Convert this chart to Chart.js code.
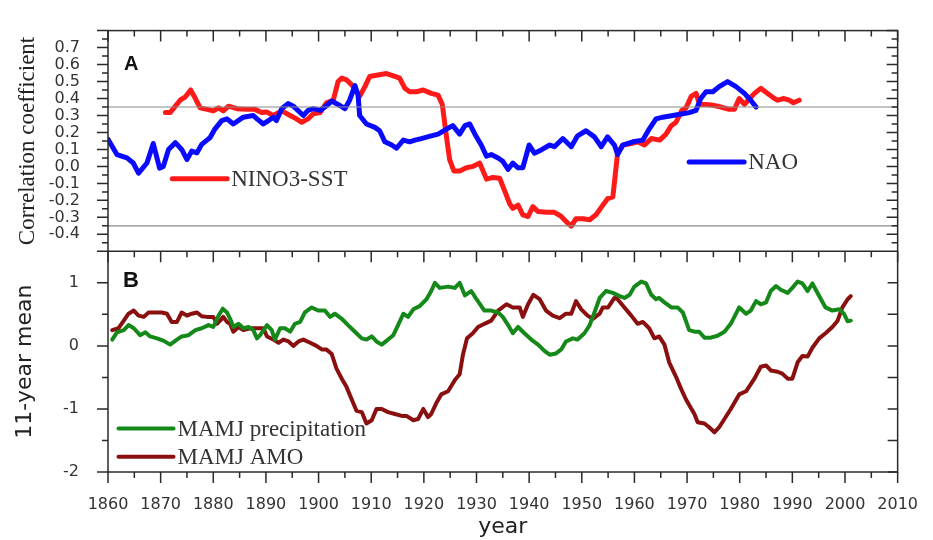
<html lang="en">
<head>
  <meta charset="UTF-8">
  <title>Correlation and 11-year mean</title>
  <script src="https://cdn.jsdelivr.net/npm/chart.js@4.4.1/dist/chart.umd.min.js"></script>
  <style>
    html, body { margin: 0; padding: 0; background: #fff; }
    .wrap { position: relative; width: 933px; height: 540px; }
  </style>
</head>
<body>

  <div class="wrap"><canvas id="chart" width="933" height="540"></canvas></div>

  <script>
    // panel A: running correlation with NINO3-SST and NAO
    var ninoYears = [1870.9, 1871.8, 1872.8, 1873.7, 1874.7, 1875.7, 1876.6, 1877.5, 1878.8, 1880.0, 1881.0, 1881.9, 1882.9, 1884.5, 1886.4, 1887.9, 1889.2, 1890.2, 1891.4, 1893.0, 1894.6, 1895.8, 1896.8, 1898.0, 1899.0, 1900.3, 1901.5, 1902.8, 1903.7, 1904.4, 1905.3, 1906.6, 1907.8, 1908.8, 1909.7, 1911.0, 1912.9, 1914.5, 1915.4, 1916.4, 1917.3, 1918.6, 1919.9, 1921.4, 1922.7, 1923.5, 1924.3, 1924.9, 1925.7, 1926.8, 1928.1, 1929.3, 1930.6, 1931.9, 1933.1, 1934.4, 1935.3, 1936.3, 1936.9, 1937.9, 1938.8, 1939.8, 1940.7, 1941.7, 1943.3, 1944.8, 1946.1, 1947.3, 1948.0, 1948.9, 1950.2, 1951.5, 1952.7, 1954.0, 1954.9, 1955.9, 1956.4, 1956.8, 1957.8, 1959.4, 1960.6, 1961.9, 1963.2, 1964.8, 1966.0, 1967.0, 1967.9, 1969.0, 1969.8, 1970.8, 1971.7, 1972.4, 1973.6, 1974.9, 1976.4, 1978.0, 1979.0, 1979.9, 1980.9, 1981.9, 1982.8, 1984.0, 1985.3, 1986.6, 1987.2, 1988.4, 1989.4, 1990.2, 1991.3];
    var ninoValues = [0.317, 0.317, 0.355, 0.39, 0.41, 0.45, 0.40, 0.345, 0.336, 0.327, 0.345, 0.327, 0.355, 0.34, 0.336, 0.336, 0.317, 0.32, 0.30, 0.327, 0.30, 0.28, 0.26, 0.28, 0.31, 0.317, 0.375, 0.39, 0.50, 0.52, 0.51, 0.47, 0.413, 0.47, 0.53, 0.537, 0.547, 0.53, 0.52, 0.46, 0.44, 0.44, 0.45, 0.43, 0.42, 0.365, 0.174, 0.04, -0.027, -0.027, -0.008, 0.0, 0.02, -0.075, -0.065, -0.07, -0.14, -0.22, -0.247, -0.228, -0.285, -0.295, -0.237, -0.266, -0.27, -0.27, -0.295, -0.333, -0.352, -0.308, -0.308, -0.314, -0.285, -0.228, -0.19, -0.18, -0.037, 0.078, 0.126, 0.135, 0.145, 0.126, 0.164, 0.155, 0.19, 0.24, 0.26, 0.33, 0.345, 0.413, 0.43, 0.365, 0.365, 0.36, 0.35, 0.336, 0.336, 0.40, 0.365, 0.40, 0.43, 0.46, 0.43, 0.40, 0.39, 0.40, 0.39, 0.375, 0.39];

    var naoYears = [1860.0, 1861.7, 1863.6, 1864.8, 1865.8, 1867.4, 1868.6, 1869.8, 1870.5, 1871.5, 1872.8, 1874.0, 1875.0, 1875.9, 1876.9, 1877.8, 1878.8, 1879.4, 1880.3, 1881.6, 1882.6, 1883.8, 1885.7, 1887.6, 1888.3, 1889.5, 1890.5, 1891.4, 1892.0, 1893.0, 1894.2, 1895.2, 1897.1, 1898.0, 1899.0, 1900.3, 1901.2, 1902.5, 1903.7, 1905.0, 1905.9, 1906.9, 1907.5, 1907.8, 1909.1, 1910.7, 1911.6, 1912.6, 1913.9, 1914.8, 1916.1, 1917.3, 1918.3, 1919.5, 1921.4, 1922.7, 1924.3, 1925.5, 1926.8, 1927.8, 1928.7, 1929.7, 1930.9, 1931.9, 1932.8, 1934.1, 1935.0, 1936.0, 1936.9, 1937.9, 1938.8, 1940.0, 1941.0, 1942.3, 1943.9, 1944.8, 1946.4, 1948.0, 1949.2, 1950.8, 1952.4, 1953.7, 1954.9, 1956.2, 1956.8, 1957.8, 1959.7, 1961.6, 1962.8, 1964.1, 1965.4, 1967.3, 1969.2, 1970.4, 1971.7, 1972.6, 1973.6, 1974.9, 1976.1, 1977.7, 1979.3, 1980.9, 1982.1, 1983.1];
    var naoValues = [0.16, 0.07, 0.05, 0.02, -0.04, 0.02, 0.135, -0.01, 0.0, 0.10, 0.14, 0.10, 0.04, 0.09, 0.08, 0.13, 0.155, 0.17, 0.22, 0.27, 0.28, 0.25, 0.29, 0.30, 0.28, 0.25, 0.27, 0.29, 0.27, 0.34, 0.37, 0.355, 0.30, 0.33, 0.34, 0.33, 0.35, 0.385, 0.365, 0.34, 0.39, 0.476, 0.42, 0.30, 0.25, 0.23, 0.21, 0.145, 0.126, 0.107, 0.155, 0.145, 0.155, 0.164, 0.18, 0.19, 0.22, 0.24, 0.19, 0.24, 0.25, 0.19, 0.126, 0.06, 0.07, 0.05, 0.03, -0.017, 0.02, -0.008, -0.008, 0.126, 0.078, 0.097, 0.126, 0.116, 0.164, 0.116, 0.18, 0.21, 0.174, 0.116, 0.174, 0.126, 0.07, 0.126, 0.145, 0.155, 0.22, 0.28, 0.29, 0.30, 0.31, 0.317, 0.33, 0.40, 0.44, 0.44, 0.47, 0.50, 0.47, 0.43, 0.39, 0.35];

    var sigYears = [1860, 2010];
    var sigLevel = 0.35;

    // panel B: 11-year means
    var precipYears = [1860.8, 1861.7, 1863.0, 1863.9, 1864.9, 1866.1, 1867.1, 1868.0, 1869.3, 1870.6, 1871.8, 1873.1, 1874.0, 1875.3, 1876.6, 1877.8, 1879.1, 1880.0, 1881.0, 1881.8, 1882.6, 1883.2, 1883.8, 1884.8, 1885.7, 1886.7, 1887.6, 1888.3, 1888.9, 1890.2, 1891.1, 1891.7, 1892.7, 1893.6, 1894.6, 1895.5, 1896.5, 1897.4, 1898.7, 1899.9, 1901.2, 1902.2, 1903.1, 1904.4, 1905.6, 1906.9, 1908.2, 1909.1, 1910.1, 1911.0, 1912.0, 1913.2, 1914.2, 1915.1, 1916.1, 1917.0, 1918.0, 1919.2, 1920.5, 1921.4, 1922.1, 1923.0, 1924.6, 1925.9, 1926.8, 1927.8, 1929.0, 1930.0, 1931.5, 1932.8, 1934.1, 1935.0, 1936.0, 1936.9, 1937.9, 1939.1, 1940.4, 1941.7, 1942.9, 1943.9, 1945.1, 1946.1, 1947.0, 1948.3, 1949.2, 1950.5, 1951.5, 1952.4, 1953.4, 1954.6, 1955.9, 1957.2, 1958.1, 1959.1, 1960.0, 1961.3, 1962.2, 1963.2, 1964.1, 1964.7, 1965.7, 1967.0, 1968.2, 1969.2, 1970.4, 1971.4, 1972.3, 1973.3, 1974.5, 1975.8, 1977.1, 1978.3, 1979.9, 1981.2, 1982.1, 1983.1, 1984.0, 1985.0, 1985.9, 1986.9, 1987.8, 1989.1, 1990.0, 1991.0, 1991.9, 1992.9, 1993.8, 1995.1, 1996.3, 1997.6, 1998.9, 1999.8, 2000.5, 2001.1];
    var precipValues = [0.10, 0.215, 0.25, 0.33, 0.28, 0.17, 0.215, 0.15, 0.12, 0.08, 0.02, 0.10, 0.15, 0.17, 0.25, 0.28, 0.33, 0.30, 0.48, 0.59, 0.53, 0.43, 0.30, 0.35, 0.28, 0.30, 0.25, 0.12, 0.17, 0.33, 0.25, 0.10, 0.28, 0.28, 0.225, 0.35, 0.38, 0.53, 0.61, 0.56, 0.56, 0.46, 0.51, 0.43, 0.33, 0.225, 0.12, 0.10, 0.15, 0.07, 0.02, 0.10, 0.17, 0.33, 0.51, 0.46, 0.58, 0.63, 0.74, 0.87, 1.00, 0.92, 0.94, 0.92, 1.00, 0.80, 0.87, 0.74, 0.56, 0.56, 0.53, 0.46, 0.33, 0.20, 0.30, 0.20, 0.10, 0.02, -0.08, -0.14, -0.12, -0.056, 0.07, 0.12, 0.10, 0.20, 0.33, 0.53, 0.76, 0.87, 0.84, 0.79, 0.76, 0.81, 0.94, 1.02, 0.99, 0.81, 0.74, 0.76, 0.69, 0.61, 0.61, 0.53, 0.25, 0.225, 0.225, 0.13, 0.13, 0.16, 0.225, 0.35, 0.61, 0.51, 0.56, 0.71, 0.66, 0.69, 0.87, 0.95, 0.89, 0.84, 0.92, 1.02, 0.99, 0.87, 0.99, 0.79, 0.61, 0.56, 0.58, 0.51, 0.39, 0.40];

    var amoYears = [1860.8, 1862.0, 1863.0, 1863.9, 1864.9, 1865.8, 1866.8, 1867.7, 1869.0, 1870.2, 1871.2, 1872.1, 1873.1, 1874.0, 1875.0, 1875.9, 1876.9, 1877.8, 1878.8, 1880.0, 1880.7, 1881.3, 1881.9, 1882.6, 1883.2, 1883.8, 1884.8, 1885.7, 1887.0, 1888.3, 1889.5, 1890.2, 1891.4, 1892.4, 1893.3, 1894.3, 1895.2, 1896.2, 1897.1, 1898.4, 1899.6, 1900.6, 1901.5, 1902.5, 1903.4, 1904.4, 1905.3, 1906.3, 1907.2, 1908.2, 1909.1, 1910.1, 1911.0, 1912.0, 1913.2, 1914.5, 1915.8, 1916.7, 1918.0, 1918.9, 1919.9, 1920.8, 1921.4, 1922.4, 1923.3, 1924.6, 1925.9, 1926.8, 1927.4, 1928.2, 1929.3, 1930.3, 1931.5, 1932.8, 1934.1, 1935.7, 1936.9, 1938.2, 1938.8, 1939.8, 1940.8, 1942.0, 1943.2, 1944.5, 1945.8, 1947.0, 1948.0, 1948.9, 1949.9, 1951.1, 1952.1, 1953.4, 1954.0, 1955.0, 1956.2, 1956.8, 1958.1, 1959.4, 1960.6, 1961.6, 1962.8, 1963.8, 1964.7, 1965.7, 1966.6, 1967.9, 1968.8, 1969.8, 1970.7, 1971.4, 1972.0, 1973.3, 1974.2, 1975.2, 1976.1, 1977.1, 1978.3, 1979.9, 1981.2, 1982.8, 1984.0, 1985.0, 1985.9, 1987.2, 1988.1, 1989.1, 1990.0, 1991.0, 1991.9, 1992.9, 1993.8, 1995.1, 1996.3, 1997.6, 1998.6, 1999.5, 2000.5, 2001.1];
    var amoValues = [0.25, 0.28, 0.40, 0.51, 0.56, 0.48, 0.46, 0.53, 0.53, 0.53, 0.51, 0.38, 0.38, 0.53, 0.48, 0.51, 0.53, 0.47, 0.46, 0.46, 0.35, 0.40, 0.46, 0.38, 0.35, 0.225, 0.30, 0.25, 0.28, 0.28, 0.28, 0.15, 0.10, 0.05, 0.10, 0.07, 0.0, 0.07, 0.10, 0.05, 0.0, -0.056, -0.056, -0.13, -0.36, -0.52, -0.65, -0.85, -1.03, -1.05, -1.23, -1.18, -1.00, -1.00, -1.05, -1.08, -1.11, -1.11, -1.18, -1.16, -1.00, -1.13, -1.08, -0.90, -0.77, -0.72, -0.54, -0.45, -0.15, 0.12, 0.20, 0.30, 0.35, 0.40, 0.56, 0.66, 0.61, 0.61, 0.46, 0.66, 0.81, 0.74, 0.56, 0.48, 0.44, 0.51, 0.51, 0.71, 0.58, 0.48, 0.43, 0.51, 0.61, 0.61, 0.76, 0.74, 0.61, 0.48, 0.35, 0.38, 0.28, 0.12, 0.15, 0.02, -0.26, -0.49, -0.67, -0.85, -0.98, -1.08, -1.21, -1.23, -1.29, -1.37, -1.29, -1.16, -1.00, -0.77, -0.72, -0.52, -0.33, -0.31, -0.39, -0.41, -0.44, -0.52, -0.52, -0.26, -0.16, -0.17, -0.03, 0.12, 0.20, 0.30, 0.40, 0.61, 0.74, 0.79];

    var xTicks = [1860, 1870, 1880, 1890, 1900, 1910, 1920, 1930, 1940, 1950, 1960, 1970, 1980, 1990, 2000, 2010];

    (function(){
      'use strict';

      var ink = '#2a2a2a';
      var label = '#333';

      function points(xs, ys){
        return xs.map(function(x, i){ return { x: x, y: ys[i] }; });
      }

      function series(name, xs, ys, color, width, axis){
        return {
          label: name,
          data: points(xs, ys),
          yAxisID: axis,
          borderColor: color,
          backgroundColor: color,
          borderWidth: width,
          borderJoinStyle: 'round',
          borderCapStyle: 'round',
          pointRadius: 0,
          tension: 0,
          legendAt: null
        };
      }

      function sigLine(level){
        return {
          label: '',
          data: points(sigYears, sigYears.map(function(){ return level; })),
          yAxisID: 'yA',
          borderColor: '#8a8a8a',
          borderWidth: 1.2,
          pointRadius: 0
        };
      }

      var nino = series('NINO3-SST', ninoYears, ninoValues, '#ff1a1a', 5, 'yA');
      var nao = series('NAO', naoYears, naoValues, '#0a0aff', 5, 'yA');
      var precip = series('MAMJ precipitation', precipYears, precipValues, '#14891a', 4, 'yB');
      var amo = series('MAMJ AMO', amoYears, amoValues, '#8a1010', 4, 'yB');

      // where each legend sample sits, in data units of its own panel
      nino.legendAt = [1872.2, -0.073];
      nao.legendAt = [1970.4, 0.026];
      precip.legendAt = [1862.0, -1.31];
      amo.legendAt = [1862.0, -1.76];

      var framePlugin = {
        id: 'frame',
        afterDatasetsDraw: function(chart){
          var ctx = chart.ctx, area = chart.chartArea,
            x = chart.scales.x, yA = chart.scales.yA, yB = chart.scales.yB,
            mid = yA.bottom, i, px, py, len;

          ctx.save();
          ctx.strokeStyle = ink;
          ctx.lineWidth = 1.5;
          ctx.lineCap = 'butt';

          ctx.strokeRect(area.left, area.top, area.right - area.left, area.bottom - area.top);
          ctx.beginPath();
          ctx.moveTo(area.left, mid);
          ctx.lineTo(area.right, mid);

          // year ticks, all pointing down
          for(i = 1860; i <= 2010; i += 5){
            px = x.getPixelForValue(i);
            len = i % 10 === 0 ? 11 : 6;
            [area.top, mid, area.bottom].forEach(function(y0){
              ctx.moveTo(px, y0);
              ctx.lineTo(px, y0 + len);
            });
          }

          // panel A ticks, every 0.05
          for(i = -50; i <= 80; i += 5){
            py = yA.getPixelForValue(i / 100);
            len = i % 10 === 0 ? 11 : 6;
            ctx.moveTo(area.left - len, py);
            ctx.lineTo(area.left, py);
            ctx.moveTo(area.right - len, py);
            ctx.lineTo(area.right, py);
          }

          // panel B ticks, every 0.5
          for(i = -4; i <= 2; i++){
            py = yB.getPixelForValue(i / 2);
            len = i % 2 === 0 ? 11 : 6;
            ctx.moveTo(area.left - len, py);
            ctx.lineTo(area.left, py);
            ctx.moveTo(area.right - 10, py);
            ctx.lineTo(area.right, py);
          }
          ctx.stroke();

          // legends inside the panels
          [nino, nao, precip, amo].forEach(function(ds){
            var ys = chart.scales[ds.yAxisID],
              lx = x.getPixelForValue(ds.legendAt[0]),
              ly = ys.getPixelForValue(ds.legendAt[1]);

            ctx.strokeStyle = ds.borderColor;
            ctx.lineWidth = ds.borderWidth;
            ctx.lineCap = 'round';
            ctx.beginPath();
            ctx.moveTo(lx, ly);
            ctx.lineTo(lx + 55, ly);
            ctx.stroke();

            ctx.fillStyle = label;
            ctx.font = '23px "Liberation Serif", "Times New Roman", serif';
            ctx.textBaseline = 'middle';
            ctx.textAlign = 'left';
            ctx.fillText(ds.label, lx + 59, ly + 1);
          });

          // panel letters
          ctx.fillStyle = '#111';
          ctx.textBaseline = 'alphabetic';
          ctx.font = 'bold 20px "Liberation Sans", Arial, sans-serif';
          ctx.fillText('A', area.left + 16, yA.top + 39);
          ctx.font = 'bold 22px "Liberation Sans", Arial, sans-serif';
          ctx.fillText('B', area.left + 15, yB.top + 36);

          ctx.restore();
        }
      };

      var tickFont = { family: '"DejaVu Sans", sans-serif', size: 16 };

      new Chart(document.getElementById('chart'), {
        type: 'line',
        data: {
          datasets: [sigLine(sigLevel), sigLine(-sigLevel), nao, nino, precip, amo]
        },
        plugins: [framePlugin],
        options: {
          responsive: false,
          animation: false,
          devicePixelRatio: 1,
          layout: { padding: { top: 16, right: 34, bottom: 0, left: 0 } },
          plugins: {
            legend: { display: false },
            tooltip: { enabled: false }
          },
          scales: {
            x: {
              type: 'linear',
              min: 1860,
              max: 2010,
              afterBuildTicks: function(scale){
                scale.ticks = xTicks.map(function(v){ return { value: v }; });
              },
              ticks: {
                callback: function(v){ return String(v); },
                font: tickFont,
                color: label,
                padding: 15,
                maxRotation: 0,
                autoSkip: false
              },
              grid: { display: false },
              border: { display: false },
              title: {
                display: true,
                text: 'year',
                color: '#222',
                font: { family: '"DejaVu Sans", sans-serif', size: 22 },
                padding: { top: 0, bottom: 0 }
              },
              afterFit: function(scale){ scale.height = 68; }
            },
            yB: {
              type: 'linear',
              position: 'left',
              stack: 'panels',
              stackWeight: 1,
              min: -2,
              max: 1.5,
              ticks: {
                stepSize: 0.5,
                callback: function(v){ return Number.isInteger(v) ? String(v) : ''; },
                font: tickFont,
                color: label,
                padding: 21
              },
              grid: { display: false },
              border: { display: false },
              title: {
                display: true,
                text: '11-year mean',
                color: '#222',
                font: { family: '"DejaVu Sans", sans-serif', size: 22 },
                padding: { top: 12, bottom: 0 }
              },
              afterFit: function(scale){ scale.width = 108; }
            },
            yA: {
              type: 'linear',
              position: 'left',
              stack: 'panels',
              stackWeight: 1,
              min: -0.5,
              max: 0.8,
              ticks: {
                stepSize: 0.1,
                callback: function(v){
                  if(v < -0.45 || v > 0.75) return '';
                  return Math.abs(v) < 1e-9 ? '0.0' : v.toFixed(1);
                },
                font: { family: '"DejaVu Sans", sans-serif', size: 16 },
                color: label,
                padding: 20,
                autoSkip: false
              },
              grid: { display: false },
              border: { display: false },
              title: {
                display: true,
                text: 'Correlation coefficient',
                color: '#222',
                font: { family: '"Liberation Serif", "Times New Roman", serif', size: 23 },
                padding: { top: 14, bottom: 0 }
              },
              afterFit: function(scale){ scale.width = 108; }
            }
          }
        }
      });
    }());
  </script>

</body>
</html>
